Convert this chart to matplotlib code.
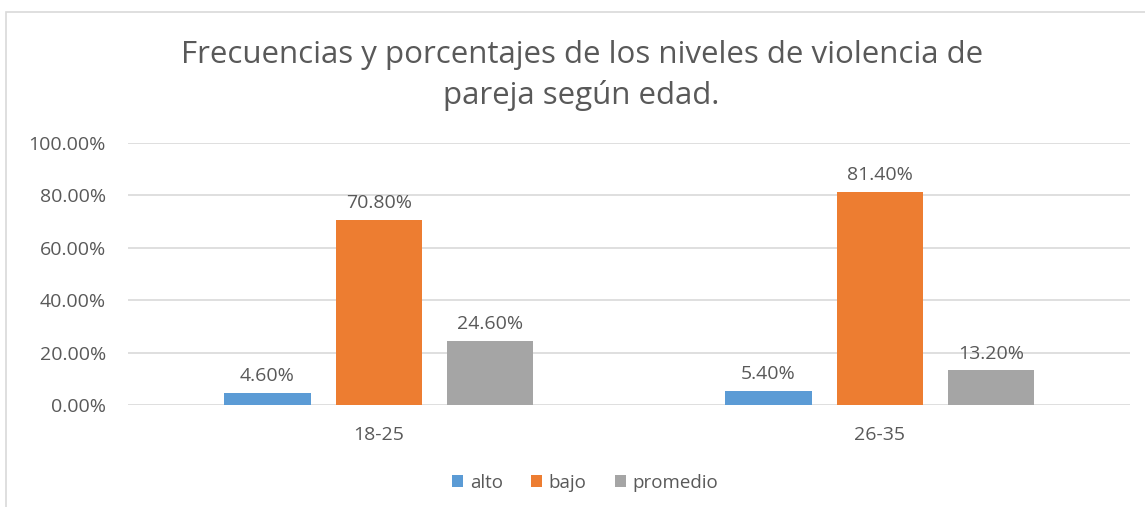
import matplotlib.pyplot as plt
from matplotlib.patches import Rectangle
import numpy as np

plt.rcParams['font.family'] = ['Open Sans', 'DejaVu Sans']

# Data
edades = ['18-25', '26-35']
niveles = ['alto', 'bajo', 'promedio']
alto = [4.6, 5.4]
bajo = [70.8, 81.4]
promedio = [24.6, 13.2]
colores = ['#5B9BD5', '#ED7D31', '#A5A5A5']
yticks = [0, 20, 40, 60, 80, 100]

texto = '#595959'

fig = plt.figure(figsize=(11.45, 5.07), dpi=100)
ax = fig.add_axes([0.112, 0.201, 0.875, 0.517])

# light frame around the chart area, like the Excel chart border
fig.patches.append(Rectangle((0.005, -0.01), 1.2, 0.987, transform=fig.transFigure,
                             fill=False, edgecolor='#d9d9d9', linewidth=1.2))

x = np.arange(len(edades))
ancho = 0.172
paso = 0.222
for i, (serie, nombre) in enumerate(zip([alto, bajo, promedio], niveles)):
    barras = ax.bar(x + (i - 1) * paso, serie, ancho, color=colores[i], label=nombre, zorder=3)
    for b, v in zip(barras, serie):
        ax.text(b.get_x() + b.get_width() / 2, v + 3, f'{v:.2f}%', ha='center', va='bottom',
                fontsize=14, color=texto)

ax.set_xlim(-0.5, 1.5)
ax.set_ylim(0, 100)
ax.set_yticks(yticks)
ax.set_yticklabels([f'{t:.2f}%' for t in yticks], fontsize=14, color=texto)
ax.set_xticks(x)
ax.set_xticklabels(edades, fontsize=14, color=texto)
ax.tick_params(length=0, pad=16)
ax.tick_params(axis='x', pad=15)
ax.grid(axis='y', color='#d9d9d9', linewidth=1.2, zorder=0)
for s in ax.spines.values():
    s.set_visible(False)

fig.text(0.508, 0.851, 'Frecuencias y porcentajes de los niveles de violencia de\npareja según edad.',
         ha='center', va='center', fontsize=22.5, color=texto, linespacing=1.45)

fig.legend(loc='center', bbox_to_anchor=(0.511, 0.048), ncol=3, frameon=False, fontsize=13.5,
           handlelength=0.6, handleheight=0.6, handletextpad=0.35, columnspacing=1.5,
           labelcolor=texto)

fig.savefig('out.png', dpi=100)
